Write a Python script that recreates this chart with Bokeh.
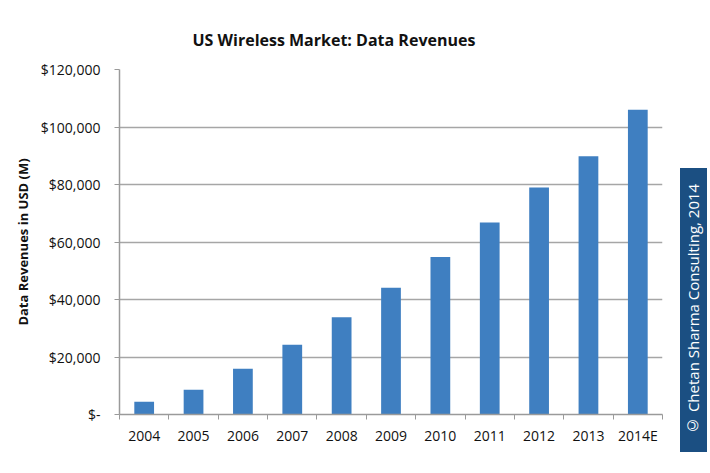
from bokeh.plotting import figure
from bokeh.layouts import row
from bokeh.models import FixedTicker, NumeralTickFormatter, ColumnDataSource, Range1d, Div
from bokeh.embed import file_html
from bokeh.resources import INLINE

categories = ["2004", "2005", "2006", "2007", "2008", "2009", "2010", "2011", "2012", "2013", "2014E"]
revenues = [4400, 8600, 15900, 24300, 33800, 44100, 54800, 66800, 79000, 89800, 106000]
y_ticks = [0, 20000, 40000, 60000, 80000, 100000, 120000]
copyright_text = "\u00a9 Chetan Sharma Consulting, 2014"

FONT = "Open Sans"
n = len(categories)
idx = list(range(n))
src = ColumnDataSource(dict(x=idx, top=revenues, cat=categories))

p = figure(width=680, height=457, output_backend="svg", toolbar_location=None,
           x_range=Range1d(-0.5, n - 0.5), y_range=Range1d(0, 120000),
           min_border_left=119, min_border_right=18, min_border_top=69, min_border_bottom=43)
p.outline_line_color = None
p.background_fill_color = "white"
p.border_fill_color = "white"

p.vbar(x="x", top="top", bottom=0, width=0.4, source=src, fill_color="#3F7FC1", line_color=None)

# title
p.title.text = "US Wireless  Market: Data Revenues"
p.title.text_font = FONT
p.title.text_font_size = "16px"
p.title.text_font_style = "bold"
p.title.text_color = "#111111"
p.title.align = "left"
p.title.offset = 73
p.title.standoff = 37

# x axis
xa = p.xaxis[0]
xa.ticker = FixedTicker(ticks=idx, minor_ticks=[i - 0.5 for i in range(n + 1)])
xa.major_label_overrides = {i: c for i, c in zip(idx, categories)}
xa.major_tick_line_color = None
xa.minor_tick_line_color = "#9a9a9a"
xa.minor_tick_out = 5
xa.minor_tick_in = 0
xa.axis_line_color = "#9a9a9a"
xa.axis_line_width = 1.5
xa.major_label_text_font = FONT
xa.major_label_text_font_size = "14px"
xa.major_label_text_color = "#111111"
xa.major_label_standoff = 5

# y axis
ya = p.yaxis[0]
ya.ticker = FixedTicker(ticks=y_ticks)
ya.formatter = NumeralTickFormatter(format="$0,0")
ya.major_label_overrides = {0: "$-"}
ya.axis_line_color = "#9a9a9a"
ya.axis_line_width = 1.5
ya.major_tick_line_color = "#9a9a9a"
ya.major_tick_out = 5
ya.major_tick_in = 0
ya.minor_tick_line_color = None
ya.major_label_text_font = FONT
ya.major_label_text_font_size = "14px"
ya.major_label_text_color = "#111111"
ya.major_label_standoff = 14
ya.axis_label = "Data Revenues in USD (M)"
ya.axis_label_text_font = FONT
ya.axis_label_text_font_size = "13px"
ya.axis_label_text_font_style = "bold"
ya.axis_label_text_color = "#111111"
ya.axis_label_standoff = 6

p.xgrid.grid_line_color = None
p.ygrid.grid_line_color = "#a6a6a6"
p.ygrid.grid_line_width = 1.3

# copyright box on the right
box_html = (
    '<div style="margin-top:168px;width:27px;height:284px;background:#1B4F82;color:white;'
    "font-family:'Open Sans';font-size:15px;writing-mode:vertical-rl;transform:rotate(180deg);"
    'display:flex;align-items:center;justify-content:center;white-space:nowrap;">'
    + copyright_text + "</div>"
)
side = Div(text=box_html, width=28, height=457, margin=0)

layout = row(p, side, spacing=0)
open("out.html", "w").write(file_html(layout, INLINE))
